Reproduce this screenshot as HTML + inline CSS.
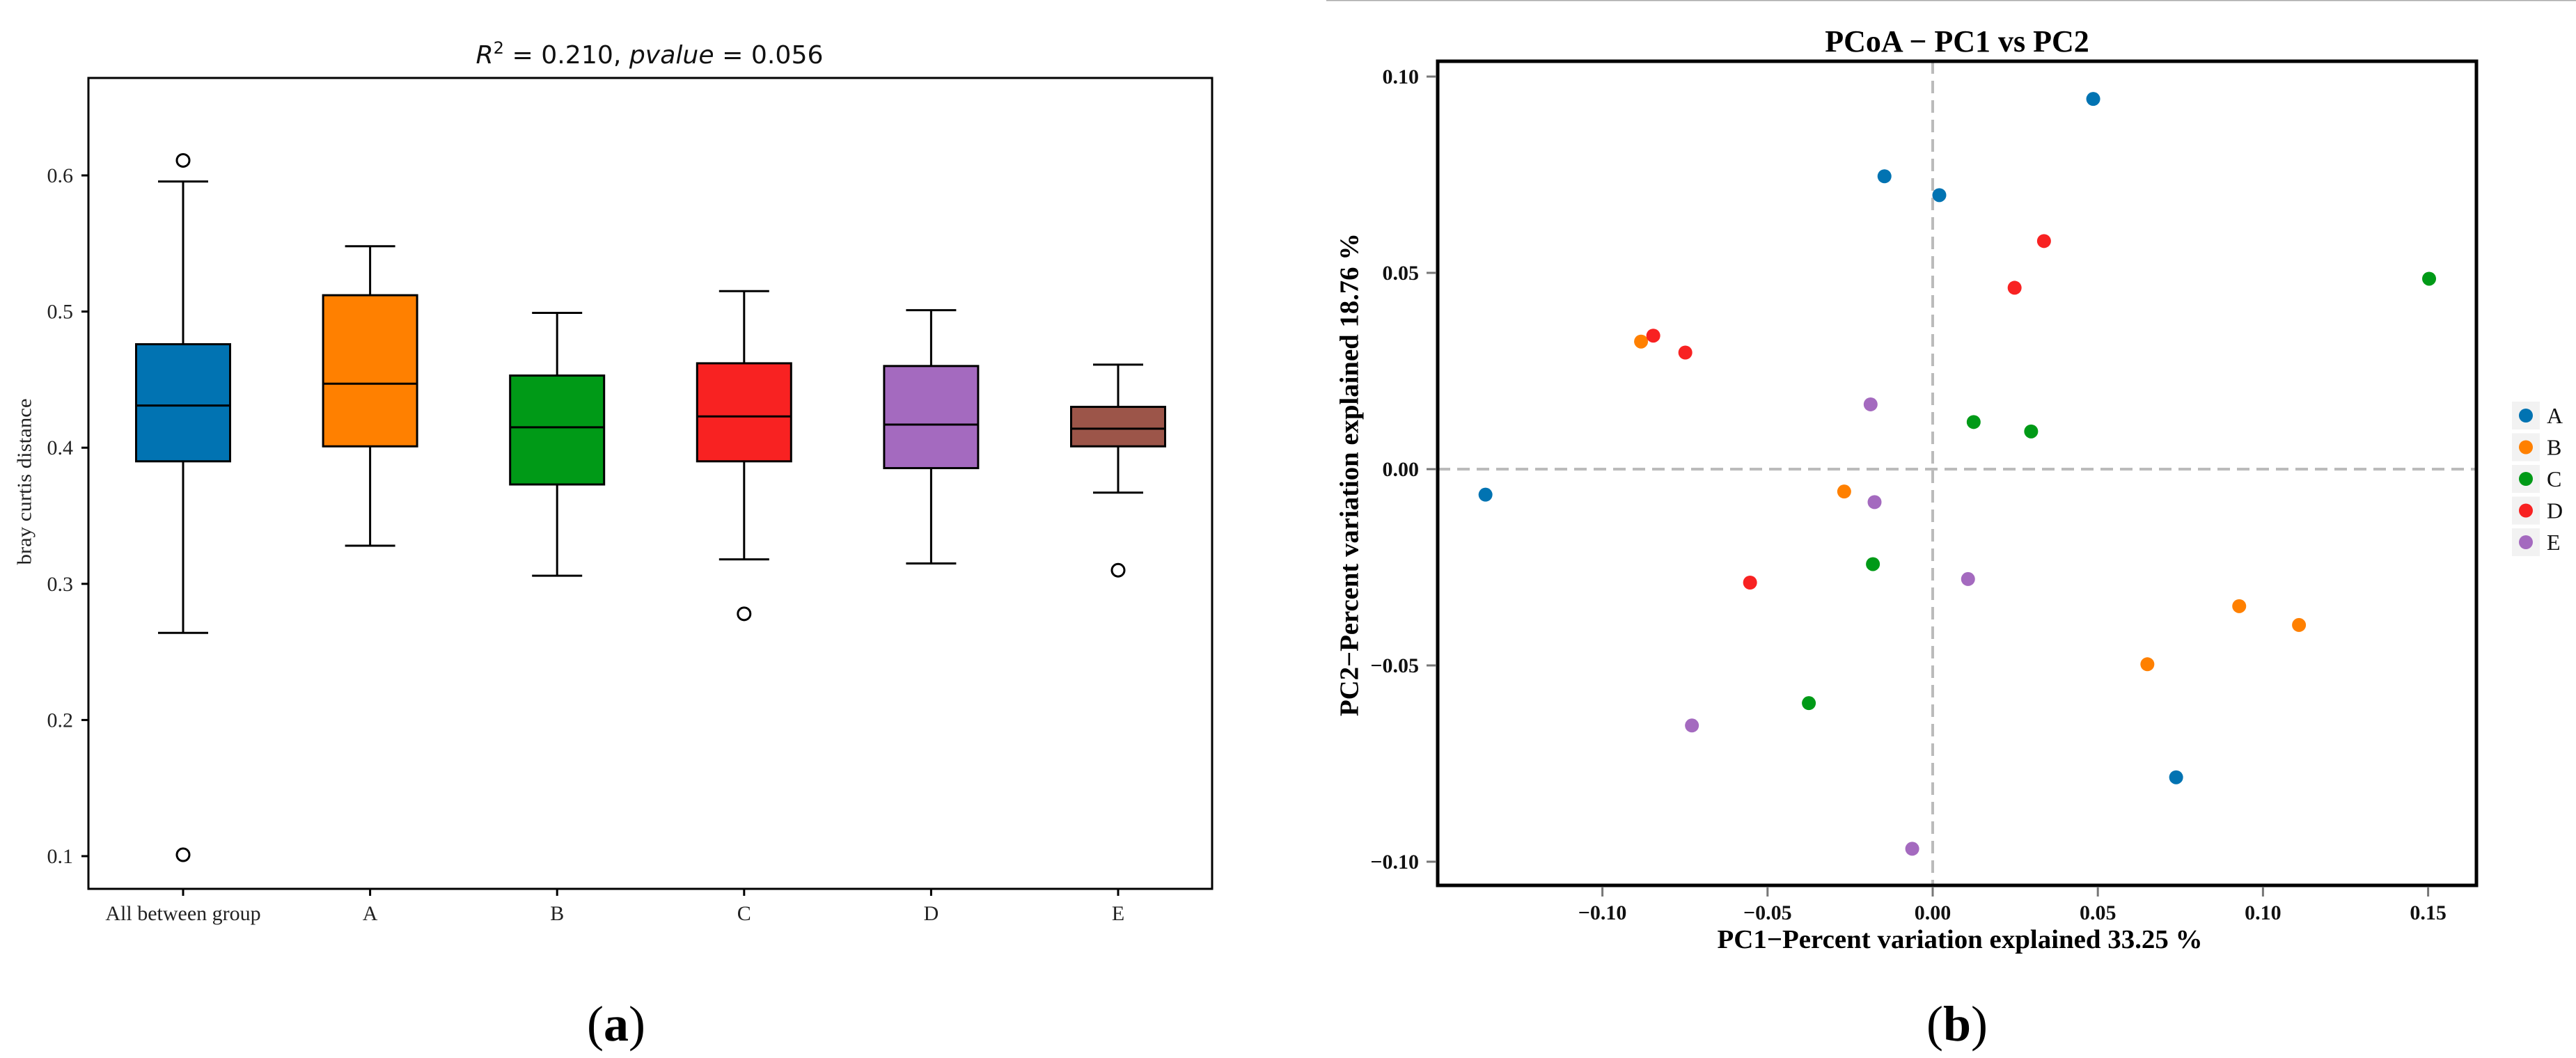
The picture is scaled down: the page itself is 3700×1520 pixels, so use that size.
<!DOCTYPE html>
<html><head><meta charset="utf-8">
<style>
html,body{margin:0;padding:0;background:#fff;}
svg{display:block;}
</style></head>
<body>
<svg id="fig" width="3700" height="1520" viewBox="0 0 3700 1520" xmlns="http://www.w3.org/2000/svg">
  <line x1="1905" y1="0.5" x2="3700" y2="0.5" stroke="#aaa" stroke-width="2"/>
  <g id="boxplot"></g>
  <g id="pcoa"></g>
  <text x="885" y="1495" font-family="Liberation Serif, serif" font-size="72" text-anchor="middle">(<tspan font-weight="bold">a</tspan>)</text>
  <text x="2811" y="1495" font-family="Liberation Serif, serif" font-size="72" text-anchor="middle">(<tspan font-weight="bold">b</tspan>)</text>
</svg>
<script>
// ---------- Box plot data ----------
const boxCategories = ["All between group","A","B","C","D","E"];
const boxWhiskerHigh = [0.5955,0.548,0.499,0.515,0.501,0.461];
const boxQ3 = [0.476,0.512,0.453,0.462,0.460,0.430];
const boxMedian = [0.431,0.447,0.415,0.423,0.417,0.414];
const boxQ1 = [0.390,0.401,0.373,0.390,0.385,0.401];
const boxWhiskerLow = [0.264,0.328,0.306,0.318,0.315,0.367];
const boxOutlierCat = [0,0,3,5];
const boxOutlierVal = [0.611,0.101,0.278,0.310];
const boxColors = ["#0173b2","#ff8000","#009a17","#f82222","#a46abf","#9c5549"];
const boxYTicks = [0.1,0.2,0.3,0.4,0.5,0.6];

// ---------- PCoA data ----------
const pcoaGroups = ["A","B","C","D","E"];
const pcoaColors = ["#0173b2","#ff8000","#009a17","#f82222","#a46abf"];
const pcoaPC1 = {
  A:[0.0486,-0.0146,0.002,-0.1354,0.0737],
  B:[-0.0883,-0.0268,0.0928,0.1109,0.065],
  C:[0.1503,0.0124,0.0298,-0.0181,-0.0375],
  D:[0.0337,0.0248,-0.0846,-0.0749,-0.0553],
  E:[-0.0188,-0.0176,0.0107,-0.0729,-0.0062]
};
const pcoaPC2 = {
  A:[0.0943,0.0746,0.0698,-0.0065,-0.0785],
  B:[0.0325,-0.0057,-0.0349,-0.0397,-0.0497],
  C:[0.0485,0.012,0.0096,-0.0242,-0.0596],
  D:[0.0581,0.0462,0.034,0.0297,-0.0289],
  E:[0.0165,-0.0084,-0.028,-0.0653,-0.0967]
};
const pcoaXTicks = [-0.10,-0.05,0.00,0.05,0.10,0.15];
const pcoaYTicks = [-0.10,-0.05,0.00,0.05,0.10];

const NS="http://www.w3.org/2000/svg";
function mk(parent,tag,attrs,text){
  const e=document.createElementNS(NS,tag);
  for(const k in attrs) e.setAttribute(k,attrs[k]);
  if(text!==undefined) e.textContent=text;
  parent.appendChild(e);
  return e;
}
function fmt(v){ const s=Math.abs(v).toFixed(2); return (v<-1e-9?"\u2212":"")+s; }

// ---------- Box plot ----------
(function(){
  const g=document.getElementById('boxplot');
  const L=127,R=1741,T=112,B=1277;
  const by=v=>252+(0.6-v)*1956;
  const bx=i=>263+i*268.6;
  const serif="Liberation Serif, serif";
  let e;
  e=mk(g,'rect',{x:L,y:T,width:R-L,height:B-T,fill:'none',stroke:'#000','stroke-width':3});
   
  boxYTicks.forEach(v=>{
    e=mk(g,'line',{x1:L-10,x2:L,y1:by(v),y2:by(v),stroke:'#000','stroke-width':3});
     
    e=mk(g,'text',{x:L-22,y:by(v)+10,'font-family':serif,'font-size':30,'text-anchor':'end',fill:'#222'},v.toFixed(1));
     
  });
  boxCategories.forEach((c,i)=>{
    const x=bx(i);
    e=mk(g,'line',{x1:x,x2:x,y1:B,y2:B+10,stroke:'#000','stroke-width':3});
     
    e=mk(g,'text',{x:x,y:1322,'font-family':serif,'font-size':30,'text-anchor':'middle',fill:'#222'},c);
     
    e=mk(g,'line',{x1:x,x2:x,y1:by(boxWhiskerHigh[i]),y2:by(boxQ3[i]),stroke:'#000','stroke-width':3});
     
    e=mk(g,'line',{x1:x,x2:x,y1:by(boxQ1[i]),y2:by(boxWhiskerLow[i]),stroke:'#000','stroke-width':3});
     
    [boxWhiskerHigh[i],boxWhiskerLow[i]].forEach(v=>{
      e=mk(g,'line',{x1:x-36,x2:x+36,y1:by(v),y2:by(v),stroke:'#000','stroke-width':3});
       
    });
    e=mk(g,'rect',{x:x-67.5,y:by(boxQ3[i]),width:135,height:by(boxQ1[i])-by(boxQ3[i]),fill:boxColors[i],stroke:'#000','stroke-width':3});
     
    e=mk(g,'line',{x1:x-67.5,x2:x+67.5,y1:by(boxMedian[i]),y2:by(boxMedian[i]),stroke:'#000','stroke-width':3});
     
  });
  boxOutlierCat.forEach((ci,k)=>{
    e=mk(g,'circle',{cx:bx(ci),cy:by(boxOutlierVal[k]),r:9,fill:'none',stroke:'#000','stroke-width':3});
     
  });
  e=mk(g,'text',{x:38,y:692,transform:'rotate(-90 38 692)','font-family':serif,'font-size':28,'text-anchor':'middle','dominant-baseline':'middle',fill:'#222',textLength:239,lengthAdjust:'spacingAndGlyphs'},'bray curtis distance');
   
  e=mk(g,'text',{x:933,y:91,'font-family':'DejaVu Sans, Liberation Sans, sans-serif','font-size':36,'text-anchor':'middle',fill:'#111',textLength:499,lengthAdjust:'spacingAndGlyphs'});
   
  e.innerHTML='<tspan font-style="italic">R</tspan><tspan dy="-14" font-size="24">2</tspan><tspan dy="14"> = 0.210, </tspan><tspan font-style="italic">pvalue</tspan><tspan> = 0.056</tspan>';
})();

// ---------- PCoA ----------
(function(){
  const g=document.getElementById('pcoa');
  const L=2065,R=3557,T=88,B=1272;
  const px=v=>2776+v*4744;
  const py=v=>674-v*5640;
  const serif="Liberation Serif, serif";
  let e;
  e=mk(g,'line',{x1:L,x2:R,y1:py(0),y2:py(0),stroke:'#bbb','stroke-width':4,'stroke-dasharray':'18 10'});
   
  e=mk(g,'line',{x1:px(0),x2:px(0),y1:T,y2:B,stroke:'#bbb','stroke-width':4,'stroke-dasharray':'18 10'});
   
  pcoaGroups.forEach((grp,gi)=>{
    pcoaPC1[grp].forEach((v,k)=>{
      e=mk(g,'circle',{cx:px(v),cy:py(pcoaPC2[grp][k]),r:10,fill:pcoaColors[gi]});
       
    });
  });
  e=mk(g,'rect',{x:L,y:T,width:R-L,height:B-T,fill:'none',stroke:'#000','stroke-width':5});
   
  pcoaXTicks.forEach(v=>{
    e=mk(g,'line',{x1:px(v),x2:px(v),y1:B+2,y2:B+16,stroke:'#777','stroke-width':3});
     
    e=mk(g,'text',{x:px(v),y:1321,'font-family':serif,'font-weight':'bold','font-size':30,'text-anchor':'middle',fill:'#111'},fmt(v));
     
  });
  pcoaYTicks.forEach(v=>{
    e=mk(g,'line',{x1:L-16,x2:L-2,y1:py(v),y2:py(v),stroke:'#777','stroke-width':3});
     
    e=mk(g,'text',{x:2038,y:py(v)+10,'font-family':serif,'font-weight':'bold','font-size':30,'text-anchor':'end',fill:'#111'},fmt(v));
     
  });
  e=mk(g,'text',{x:2811,y:74,'font-family':serif,'font-weight':'bold','font-size':44,'text-anchor':'middle',fill:'#000'},'PCoA \u2212 PC1 vs PC2');
   
  e=mk(g,'text',{x:2815,y:1362,'font-family':serif,'font-weight':'bold','font-size':38,'text-anchor':'middle',fill:'#000',textLength:697,lengthAdjust:'spacingAndGlyphs'},'PC1\u2212Percent variation explained 33.25 %');
   
  e=mk(g,'text',{x:1942,y:682,transform:'rotate(-90 1942 682)','font-family':serif,'font-weight':'bold','font-size':38,'text-anchor':'middle','dominant-baseline':'middle',fill:'#000',textLength:694,lengthAdjust:'spacingAndGlyphs'},'PC2\u2212Percent variation explained 18.76 %');
   
  pcoaGroups.forEach((grp,gi)=>{
    const cy=597+gi*45.5;
    const lg=mk(g,'g',{});
    
    
    mk(lg,'rect',{x:3608,y:cy-20,width:40,height:40,fill:'#f2f2f2'});
    mk(lg,'circle',{cx:3628,cy:cy,r:10,fill:pcoaColors[gi]});
    mk(lg,'text',{x:3658,y:cy+11,'font-family':serif,'font-size':32,fill:'#111'},grp);
  });
})();
</script>
</body></html>
